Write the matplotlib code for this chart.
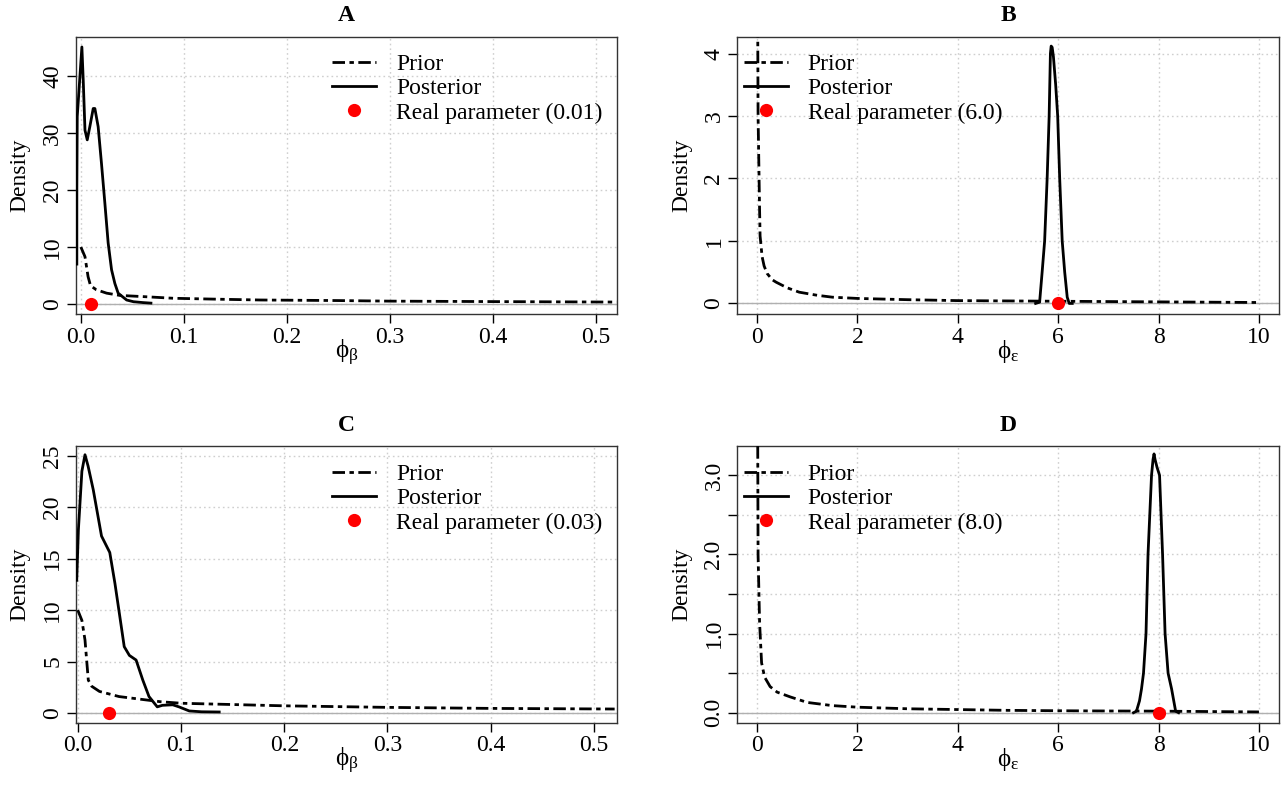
import matplotlib
matplotlib.use("Agg")
import matplotlib.pyplot as plt

plt.rcParams['font.family'] = ['Liberation Serif', 'DejaVu Serif']
plt.rcParams['mathtext.fontset'] = 'custom'
plt.rcParams['mathtext.rm'] = 'Liberation Serif'
plt.rcParams['mathtext.it'] = 'Liberation Serif'
plt.rcParams['mathtext.bf'] = 'Liberation Serif:bold'
plt.rcParams['mathtext.fallback'] = 'stix'

# ---------------- data ----------------
titles = ["A", "B", "C", "D"]
xlabels = [r'$\phi_{\beta}$', r'$\phi_{\varepsilon}$', r'$\phi_{\beta}$', r'$\phi_{\varepsilon}$']
real_values = [0.01, 6.0, 0.03, 8.0]
real_labels = ["Real parameter (0.01)", "Real parameter (6.0)",
               "Real parameter (0.03)", "Real parameter (8.0)"]

a_prior_x = [0.0, 0.004, 0.007, 0.0094, 0.015, 0.025, 0.038, 0.06, 0.09, 0.13, 0.174,
             0.25, 0.3, 0.4, 0.5, 0.52]
a_prior_y = [10.0, 8.3, 4.8, 3.2, 2.5, 1.9, 1.5, 1.3, 1.0, 0.85, 0.7,
             0.6, 0.5, 0.42, 0.35, 0.34]
a_post_x = [-0.0039, -0.0039, -0.0035, 0.0010, 0.0023, 0.0040, 0.0062, 0.0087, 0.012,
            0.0136, 0.0168, 0.020, 0.0233, 0.0265, 0.0298, 0.033, 0.0362, 0.0444,
            0.051, 0.060, 0.068]
a_post_y = [7.0, 20.0, 32.9, 45.1, 39.3, 30.5, 28.8, 31.1, 34.3,
            34.3, 31.1, 24.7, 17.7, 10.7, 6.0, 3.6, 1.9, 0.7,
            0.4, 0.25, 0.15]

b_prior_x = [0.005, 0.02, 0.05, 0.06, 0.1, 0.14, 0.2, 0.3, 0.38, 0.6, 0.84, 1.2, 1.5,
             2.0, 3.0, 4.0, 5.0, 6.0, 7.0, 8.0, 9.0, 10.0]
b_prior_y = [6.0, 3.0, 1.5, 1.08, 0.75, 0.6, 0.48, 0.38, 0.34, 0.25, 0.18, 0.13, 0.1,
             0.08, 0.06, 0.045, 0.04, 0.035, 0.03, 0.025, 0.02, 0.015]
b_post_x = [5.55, 5.63, 5.68, 5.73, 5.78, 5.82, 5.845, 5.86, 5.88, 5.905, 5.95, 5.99,
            6.03, 6.08, 6.13, 6.18, 6.22, 6.28]
b_post_y = [0.0, 0.02, 0.5, 1.0, 2.0, 3.0, 4.0, 4.12, 4.1, 3.95, 3.5, 3.0,
            2.0, 1.0, 0.5, 0.1, 0.0, 0.0]

c_prior_x = [0.0, 0.004, 0.007, 0.0102, 0.0135, 0.021, 0.04, 0.08, 0.1, 0.2, 0.3,
             0.4, 0.5, 0.52]
c_prior_y = [10.0, 9.0, 7.1, 3.2, 2.6, 2.1, 1.6, 1.1, 0.95, 0.7, 0.55,
             0.45, 0.4, 0.39]
c_post_x = [-0.001, 0.0006, 0.004, 0.007, 0.010, 0.015, 0.023, 0.031, 0.036, 0.0407,
            0.045, 0.050, 0.0565, 0.063, 0.069, 0.077, 0.082, 0.092, 0.098, 0.108,
            0.12, 0.137]
c_post_y = [12.9, 17.8, 23.5, 25.1, 24.0, 21.7, 17.2, 15.6, 12.6, 9.4,
            6.45, 5.6, 5.15, 3.2, 1.6, 0.6, 0.75, 0.8, 0.6, 0.2,
            0.12, 0.1]

d_prior_x = [0.005, 0.02, 0.05, 0.09, 0.15, 0.26, 0.4, 0.66, 1.0, 1.5, 2.0, 3.0, 4.0,
             5.0, 6.0, 7.0, 8.0, 9.0, 10.0]
d_prior_y = [5.0, 2.0, 1.14, 0.63, 0.45, 0.33, 0.26, 0.2, 0.13, 0.09, 0.07, 0.05, 0.04,
             0.03, 0.025, 0.022, 0.02, 0.015, 0.01]
d_post_x = [7.5, 7.56, 7.62, 7.66, 7.70, 7.75, 7.79, 7.86, 7.89, 7.91, 7.93, 7.97,
            8.02, 8.08, 8.13, 8.19, 8.26, 8.34, 8.40]
d_post_y = [0.0, 0.02, 0.15, 0.3, 0.5, 1.0, 2.0, 3.0, 3.2, 3.27, 3.2, 3.1,
            3.0, 2.0, 1.0, 0.5, 0.3, 0.02, 0.0]

priors = [(a_prior_x, a_prior_y), (b_prior_x, b_prior_y), (c_prior_x, c_prior_y), (d_prior_x, d_prior_y)]
posts = [(a_post_x, a_post_y), (b_post_x, b_post_y), (c_post_x, c_post_y), (d_post_x, d_post_y)]

xlims = [(-0.005, 0.520), (-0.4, 10.4), (-0.002, 0.522), (-0.4, 10.4)]
ylims = [(-1.81, 46.9), (-0.174, 4.27), (-0.94, 25.95), (-0.126, 3.37)]
xticks = [[0.0, 0.1, 0.2, 0.3, 0.4, 0.5], [0, 2, 4, 6, 8, 10],
          [0.0, 0.1, 0.2, 0.3, 0.4, 0.5], [0, 2, 4, 6, 8, 10]]
xticklabels = [["0.0", "0.1", "0.2", "0.3", "0.4", "0.5"], ["0", "2", "4", "6", "8", "10"],
               ["0.0", "0.1", "0.2", "0.3", "0.4", "0.5"], ["0", "2", "4", "6", "8", "10"]]
yticks = [[0, 10, 20, 30, 40], [0, 1, 2, 3, 4], [0, 5, 10, 15, 20, 25],
          [0.0, 0.5, 1.0, 1.5, 2.0, 2.5, 3.0]]
yticklabels = [["0", "10", "20", "30", "40"], ["0", "1", "2", "3", "4"],
               ["0", "5", "10", "15", "20", "25"],
               ["0.0", "", "1.0", "", "2.0", "", "3.0"]]

# ---------------- layout ----------------
W, H = 1281, 787
boxes = [(75.7, 36.7, 616.7, 314.3), (737, 36.7, 1279, 314.3),
         (75.7, 446, 616.7, 722.7), (737, 446, 1279, 722.7)]
legend_anchor = [(0.474, 0.94), (0.013, 0.94), (0.474, 0.937), (0.013, 0.937)]

fig = plt.figure(figsize=(W / 100, H / 100), dpi=100)
prior_ls = (0, (4.5, 1.6, 1.6, 1.6))
FS = 17

for i in range(4):
    l, t, r, b = boxes[i]
    ax = fig.add_axes([l / W, 1 - b / H, (r - l) / W, (b - t) / H])
    ax.set_xlim(*xlims[i])
    ax.set_ylim(*ylims[i])
    ax.set_xticks(xticks[i])
    ax.set_xticklabels(xticklabels[i])
    ax.set_yticks(yticks[i])
    ax.set_yticklabels(yticklabels[i])
    ax.grid(True, color='#cfcfcf', linestyle=(0, (1.2, 2.2)), linewidth=1.0)
    ax.set_axisbelow(True)
    ax.axhline(0, color='#b0b0b0', linewidth=1.0, zorder=1)
    ax.tick_params(direction='out', length=6.5, width=1, labelsize=FS, pad=2.5, colors='black')
    plt.setp(ax.get_yticklabels(), rotation=90, va='center')
    for s in ax.spines.values():
        s.set_linewidth(1.0)
        s.set_color('#333333')

    px, py = priors[i]
    qx, qy = posts[i]
    ax.plot(px, py, color='black', linewidth=2.0, linestyle=prior_ls, label='Prior', zorder=3)
    ax.plot(qx, qy, color='black', linewidth=2.0, linestyle='-', label='Posterior', zorder=3)
    ax.plot([real_values[i]], [0], 'o', color='red', markersize=9.5, markeredgewidth=0,
            linestyle='none', label=real_labels[i], zorder=5)

    ax.set_title(titles[i], fontsize=FS, fontweight='bold', pad=11)
    ax.set_xlabel(xlabels[i], fontsize=FS + 1)
    ax.xaxis.set_label_coords(0.5, -0.085)
    ax.set_ylabel('Density', fontsize=FS)
    ax.yaxis.set_label_coords(-0.083, 0.5)

    leg = ax.legend(loc='upper left', bbox_to_anchor=legend_anchor[i], frameon=False,
                    fontsize=FS, handlelength=1.85, handletextpad=0.85, labelspacing=0.12,
                    borderpad=0, borderaxespad=0)

fig.savefig('out.png', dpi=100)
